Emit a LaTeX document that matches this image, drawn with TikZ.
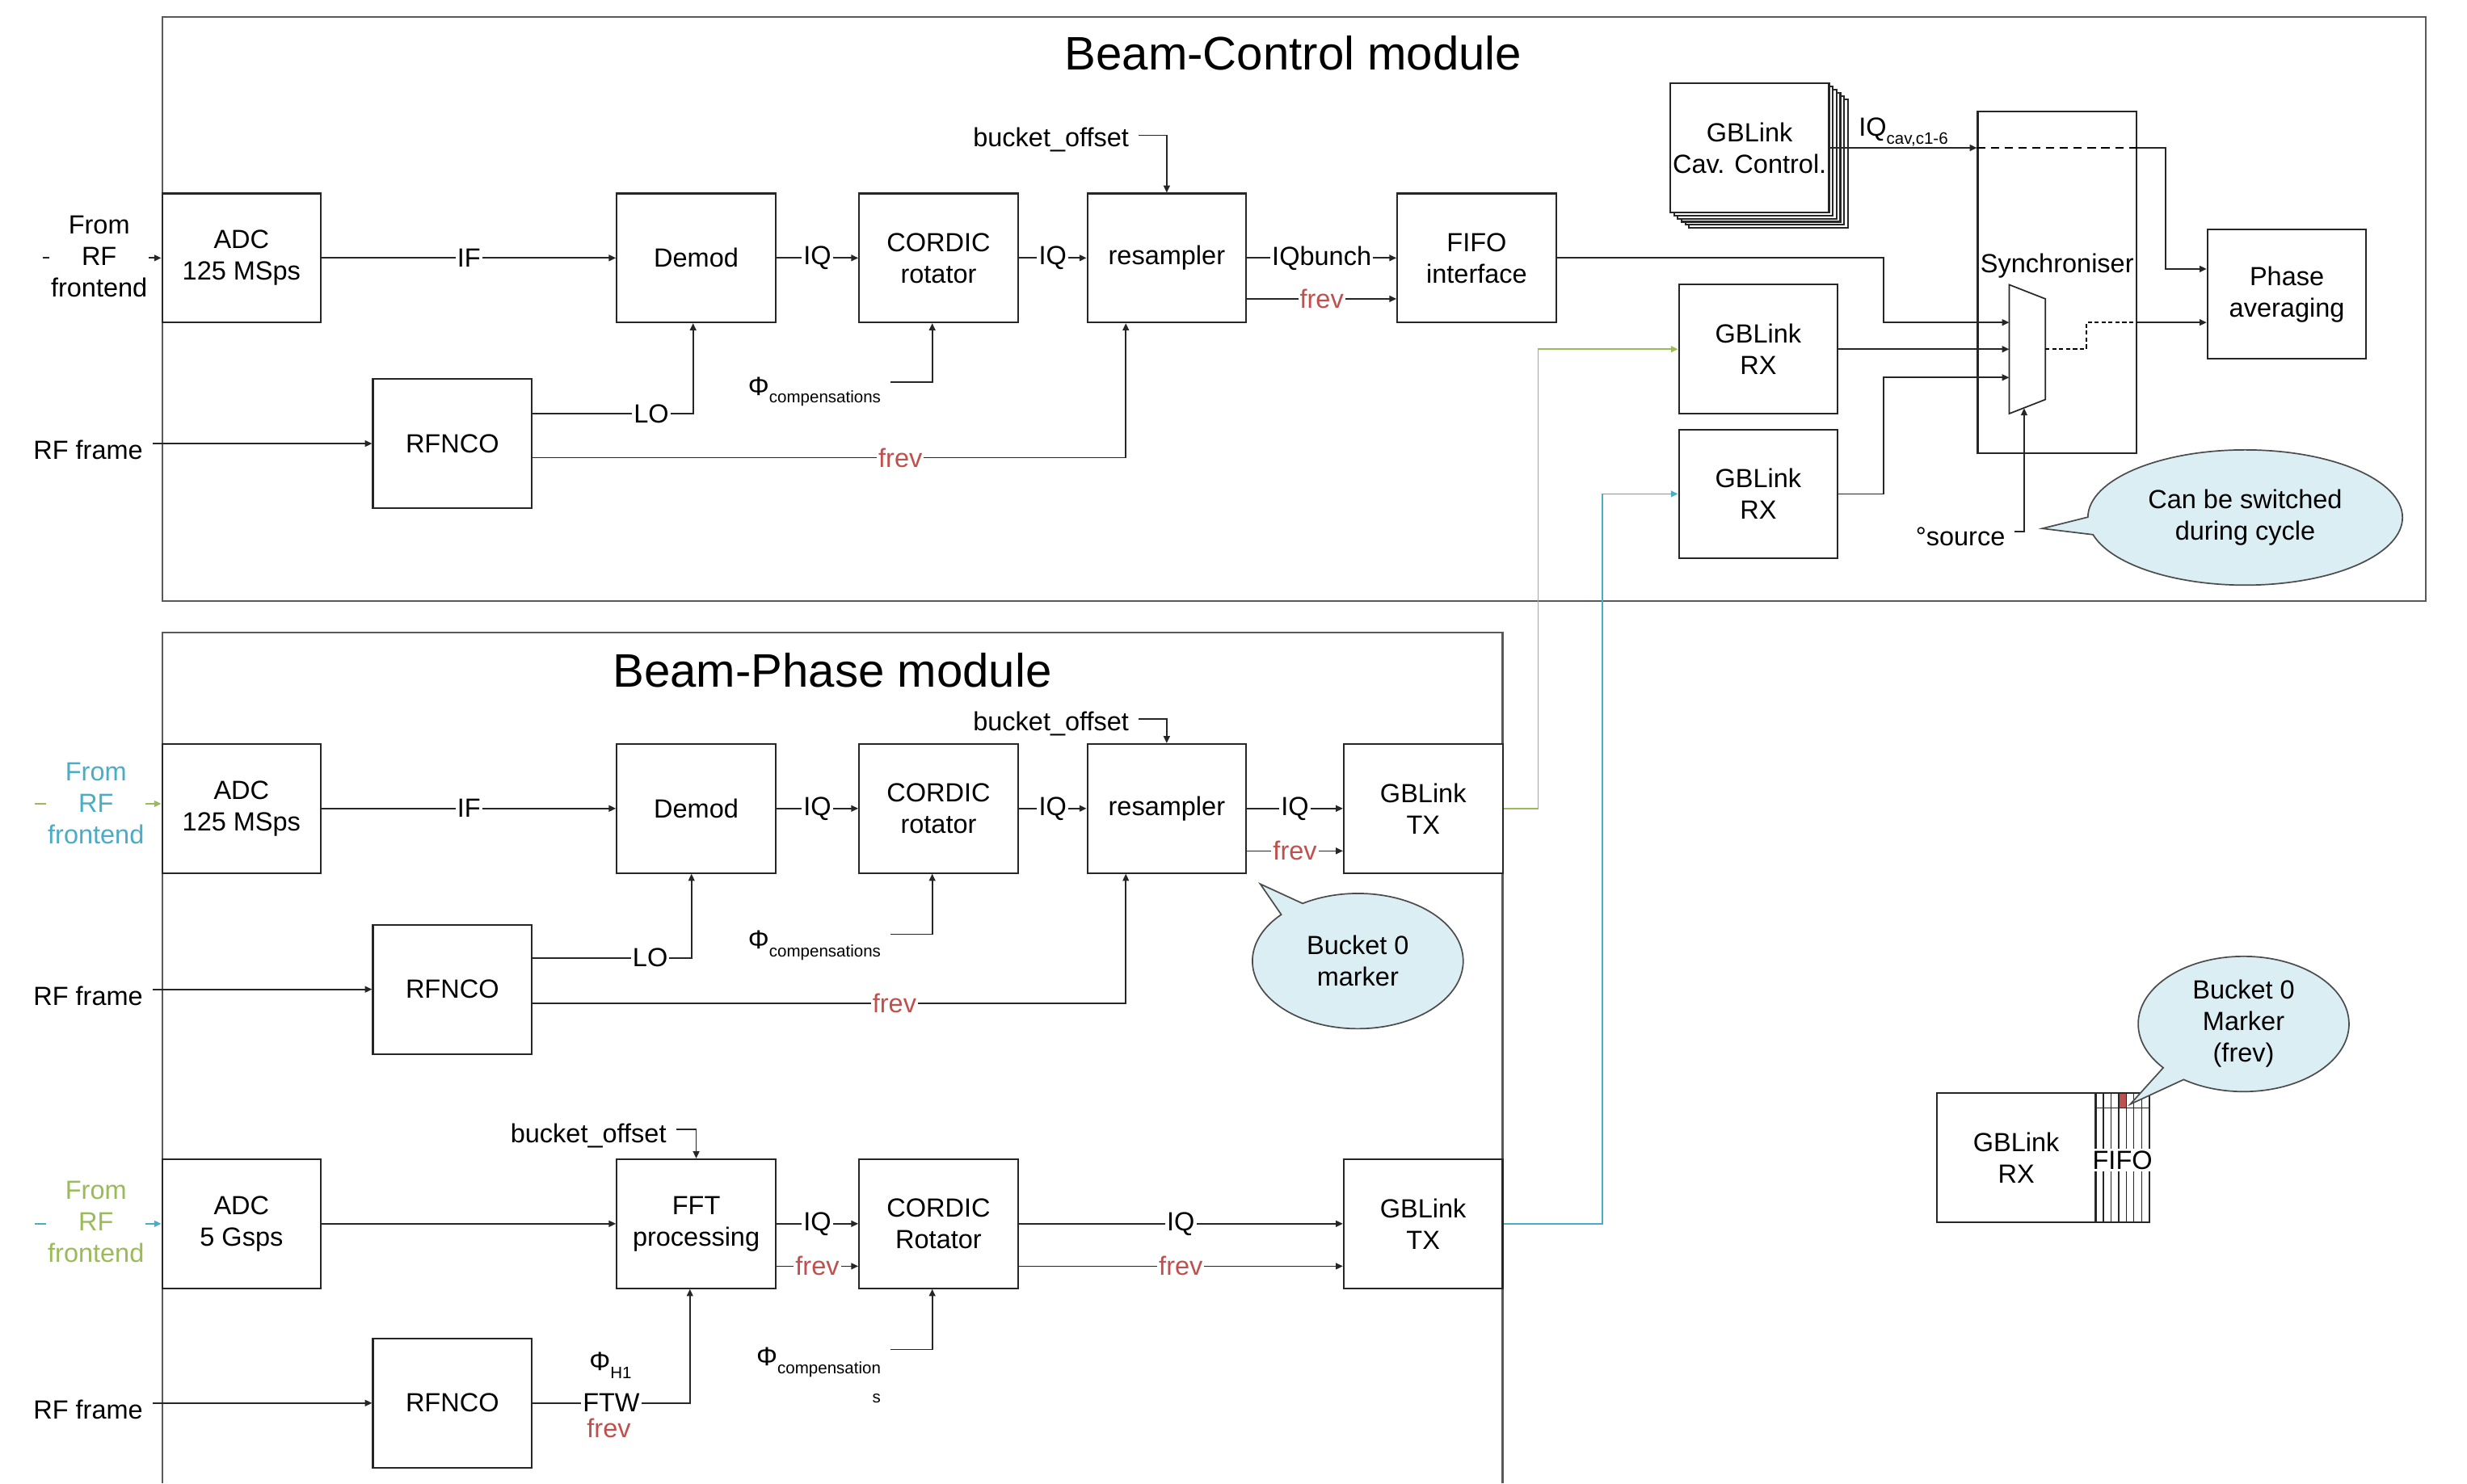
\documentclass[tikz,border=0pt]{standalone}
\usepackage{fontspec}
\setmainfont{Liberation Sans}
\usepackage{tikz}
\usetikzlibrary{arrows.meta,positioning,calc,shapes.callouts}

\definecolor{frevred}{HTML}{C0504D}
\definecolor{linkgreen}{HTML}{9BBB59}
\definecolor{linkblue}{HTML}{4BACC6}
\definecolor{callblue}{HTML}{DAEEF3}
\definecolor{framegray}{HTML}{595959}

\newcommand{\subtxt}[1]{\raisebox{-0.3em}{\fontsize{6}{7}\selectfont #1}}

\begin{document}
\begin{tikzpicture}[
        x=0.02cm, y=-0.02cm,
        font=\fontsize{9.5}{11.4}\selectfont,
        blk/.style={draw=black!85, line width=0.6pt, align=center, inner sep=0pt, minimum width=2.02cm, minimum height=1.64cm, fill=white},
        sig/.style={-{Triangle[length=0.9mm, width=0.8mm]}, line width=0.5pt, draw=black!85},
        lbl/.style={fill=white, inner sep=0.6pt, align=center},
        frevlbl/.style={lbl, text=frevred},
        frame/.style={draw=framegray, line width=0.6pt},
        title/.style={font=\fontsize{17}{20}\selectfont},
        note/.style={ellipse callout, draw=black!70, line width=0.5pt, fill=callblue, align=center, inner sep=0pt, minimum width=2.68cm, minimum height=1.72cm}
    ]
    \useasboundingbox (0,0) rectangle (1568,943);

    % module frames
    \draw[frame] (103,11) rectangle (1542,382);
    \draw[frame] (103,943) |- (955,402) -- (955,943);
    \node[title] (bcTitle) at (822,34) {Beam-Control module};
    \node[title] (bpTitle) at (529,426) {Beam-Phase module};

    % Beam-Control chain
    \node[blk] (adcA) at (153.5,164) {ADC\\125 MSps};
    \node[blk, right=3.74cm of adcA] (demodA) {Demod};
    \node[blk, right=1.04cm of demodA] (cordA) {CORDIC\\rotator};
    \node[blk, right=0.86cm of cordA] (resA) {resampler};
    \node[blk, right=1.9cm of resA] (fifoA) {FIFO\\interface};
    \node[blk] (rfncoA) at (287.5,282) {RFNCO};

    \coordinate (feedA) at (27,164);
    \draw[sig] (feedA) -- (adcA);
    \node[lbl] (fromA) at (63,163) {From\\RF\\frontend};
    \node (frameA) at (56,286) {RF frame};
    \draw[sig] (frameA.east |- rfncoA.west) -- (rfncoA.west);

    \draw[sig] (adcA) -- node[lbl] {IF} (demodA);
    \draw[sig] (demodA) -- node[lbl] {IQ} (cordA);
    \draw[sig] (cordA) -- node[lbl] {IQ} (resA);
    \draw[sig] (resA) -- node[lbl] {IQbunch} (fifoA);
    \draw[sig] ([yshift=-0.52cm]resA.east) -- node[frevlbl] {frev} ([yshift=-0.52cm]fifoA.west);
    \draw[sig] ([yshift=0.38cm]rfncoA.east) -| node[lbl, pos=0.37] {LO} ([xshift=-0.04cm]demodA.south);
    \draw[sig] ([yshift=-0.18cm]rfncoA.east) -| node[frevlbl, pos=0.31] {frev} ([xshift=-0.52cm]resA.south);
    \node[anchor=east] (phiA) at (566,249) {Φ\subtxt{compensations}};
    \draw[sig] ([yshift=0.12cm]phiA.east) -| ([xshift=-0.08cm]cordA.south);
    \node (bucketA) at (668,89) {bucket\_offset};
    \draw[sig] ([yshift=0.06cm]bucketA.east) -| (resA.north);

    % cavity controllers, receivers, synchroniser
    \foreach \k in {5,4,3,2,1}
        \node[blk] (cavback\k) at ($(1112,94)+(2.4*\k,2*\k)$) {};
    \node[blk] (cav) at (1112,94) {GBLink\\Cav. Control.};
    \node[blk, minimum height=4.34cm] (sync) at (1307.5,179.5) {};
    \node (synclbl) at (1307.5,169) {Synchroniser};
    \node[blk] (phase) at (1453.5,187) {Phase\\averaging};
    \node[blk] (rxA1) at (1117.5,222) {GBLink\\RX};
    \node[blk] (rxA2) at (1117.5,314) {GBLink\\RX};

    \draw[black!85, line width=0.5pt, fill=white] (1277,181) -- (1300,190) -- (1300,254) -- (1277,263) -- cycle;
    \coordinate (muxin1) at (1277,205);
    \coordinate (muxin2) at (1277,222);
    \coordinate (muxin3) at (1277,240);
    \coordinate (muxout) at (1300,222);
    \coordinate (muxsel) at (1286.5,259.5);
    \coordinate (muxbend) at (1326,205);

    \draw[sig] (fifoA.east) -| ([xshift=-1.6cm]muxin1) -- (muxin1);
    \draw[sig] (rxA1.east) -- (muxin2);
    \draw[sig] (rxA2.east) -| ([xshift=-1.6cm]muxin3) -- (muxin3);
    \draw[dash pattern=on 1.5pt off 1pt, line width=0.5pt] (muxout) -| (muxbend) -- (muxbend -| sync.east);
    \draw[sig] (muxbend -| sync.east) -- (muxbend -| phase.west);
    \draw[sig] (cav.east) -- node[above=-3pt] (iqcav) {IQ\subtxt{cav,c1-6}} (cav.east -| sync.west);
    \draw[dash pattern=on 3pt off 2pt, line width=0.5pt] (cav.east -| sync.west) -- (cav.east -| sync.east);
    \draw[sig] (cav.east -| sync.east) -- ++(0.36cm,0) |- ([yshift=0.32cm]phase.west);
    \node (srcA) at (1246,341) {°source};
    \draw[sig] ([yshift=0.06cm]srcA.east) -| (muxsel);
    \node[note, minimum width=4cm, callout absolute pointer={(1298,336)}] (switchNote) at (1427,329) {Can be switched\\during cycle};

    % Beam-Phase chain, 125 MSps
    \node[blk] (adcB) at (153.5,514) {ADC\\125 MSps};
    \node[blk, right=3.74cm of adcB] (demodB) {Demod};
    \node[blk, right=1.04cm of demodB] (cordB) {CORDIC\\rotator};
    \node[blk, right=0.86cm of cordB] (resB) {resampler};
    \node[blk, right=1.22cm of resB] (txB) {GBLink\\TX};
    \node[blk] (rfncoB) at (287.5,629) {RFNCO};

    \coordinate (feedB) at (22,511);
    \draw[sig, draw=linkgreen] (feedB) -- (adcB.west |- feedB);
    \node[lbl, text=linkblue] (fromB) at (61,511) {From\\RF\\frontend};
    \node (frameB) at (56,633) {RF frame};
    \draw[sig] (frameB.east |- rfncoB.west) -- (rfncoB.west);

    \draw[sig] (adcB) -- node[lbl] {IF} (demodB);
    \draw[sig] (demodB) -- node[lbl] {IQ} (cordB);
    \draw[sig] (cordB) -- node[lbl] {IQ} (resB);
    \draw[sig] (resB) -- node[lbl] {IQ} (txB);
    \draw[sig] ([yshift=-0.54cm]resB.east) -- node[frevlbl] {frev} ([yshift=-0.54cm]txB.west);
    \draw[sig] ([yshift=0.4cm]rfncoB.east) -| node[lbl, pos=0.37] {LO} ([xshift=-0.06cm]demodB.south);
    \draw[sig] ([yshift=-0.18cm]rfncoB.east) -| node[frevlbl, pos=0.305] {frev} ([xshift=-0.52cm]resB.south);
    \node[anchor=east] (phiB) at (566,601) {Φ\subtxt{compensations}};
    \draw[sig] ([yshift=0.14cm]phiB.east) -| ([xshift=-0.08cm]cordB.south);
    \node (bucketB) at (668,460) {bucket\_offset};
    \draw[sig] ([yshift=0.06cm]bucketB.east) -| (resB.north);
    \node[note, callout absolute pointer={(801,562)}] (bucketNote) at (863,611) {Bucket 0\\marker};

    % Beam-Phase chain, 5 Gsps
    \node[blk] (adcC) at (153.5,778) {ADC\\5 Gsps};
    \node[blk, right=3.74cm of adcC] (fftC) {FFT\\processing};
    \node[blk, right=1.04cm of fftC] (cordC) {CORDIC\\Rotator};
    \node[blk, right=4.12cm of cordC] (txC) {GBLink\\TX};
    \node[blk] (rfncoC) at (287.5,892) {RFNCO};

    \coordinate (feedC) at (22,778);
    \draw[sig, draw=linkblue] (feedC) -- (adcC);
    \node[lbl, text=linkgreen] (fromC) at (61,777) {From\\RF\\frontend};
    \node (frameC) at (56,896) {RF frame};
    \draw[sig] (frameC.east |- rfncoC.west) -- (rfncoC.west);

    \draw[sig] (adcC) -- (fftC);
    \draw[sig] (fftC) -- node[lbl] {IQ} (cordC);
    \draw[sig] ([yshift=-0.54cm]fftC.east) -- node[frevlbl] {frev} ([yshift=-0.54cm]cordC.west);
    \draw[sig] (cordC) -- node[lbl] {IQ} (txC);
    \draw[sig] ([yshift=-0.54cm]cordC.east) -- node[frevlbl] {frev} ([yshift=-0.54cm]txC.west);
    \draw[sig] (rfncoC.east) -| node[lbl, pos=0.25] (ftwC) {FTW} ([xshift=-0.08cm]fftC.south);
    \node (phiH) at (388,868) {Φ\subtxt{H1}};
    \node[text=frevred] (frevC) at (387,908) {frev};
    \node[anchor=east] (phiC) at (566,866) {Φ\subtxt{compensation}};
    \node[anchor=east] (phiCs) at (566,889) {\fontsize{6}{7}\selectfont s};
    \draw[sig] ([yshift=0.16cm]phiC.east) -| ([xshift=-0.08cm]cordC.south);
    \node (bucketC) at (374,722) {bucket\_offset};
    \draw[sig] ([yshift=0.08cm]bucketC.east) -| (fftC.north);

    % links between the modules
    \draw[sig, draw=linkgreen] (txB.east) -- ++(0.44cm,0) |- (rxA1.west);
    \draw[sig, draw=linkblue] (txC.east) -- ++(1.26cm,0) |- (rxA2.west);

    % receiver with FIFO
    \node[blk] (rxD) at (1281.5,736) {GBLink\\RX};
    \fill[frevred] (1346.6,695) rectangle (1351.4,704.5);
    \draw[black!85, line width=0.5pt] (1332,695) rectangle (1366,777);
    \foreach \i in {1,...,6}
        \draw[black!85, line width=0.4pt] ({1332+4.857*\i},695) -- ({1332+4.857*\i},777);
    \draw[black!85, line width=0.4pt] (1332,704.5) -- (1366,704.5);
    \node[lbl] (fifoD) at (1349,737.5) {FIFO};
    \node[note, callout absolute pointer={(1354,702)}] (markerNote) at (1426,651) {Bucket 0\\Marker\\(frev)};
\end{tikzpicture}
\end{document}
